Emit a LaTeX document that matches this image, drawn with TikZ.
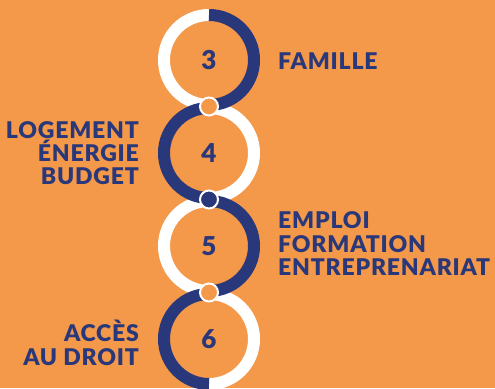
\documentclass[tikz,border=0pt]{standalone}
\usepackage{fontspec}
\setmainfont{Lato}[LetterSpace=3.5, BoldFont={Lato Black}]
\definecolor{bg}{RGB}{244,152,74}
\definecolor{navy}{RGB}{41,56,122}
\tikzset{
  ringpart/.style={line width=12pt},
  joint/.style={circle, draw=white, line width=2pt, minimum size=18pt, inner sep=0pt},
  num/.style={text=navy, font=\fontsize{26}{26}\selectfont\bfseries},
  lbl/.style={text=navy, font=\fontsize{23}{23}\selectfont\bfseries, inner sep=0pt},
}
\begin{document}
\begin{tikzpicture}[x=1pt,y=1pt]
\fill[bg] (0,0) rectangle (495,388);
\useasboundingbox (0,0) rectangle (495,388);
\def\rr{45}
\coordinate (c3) at (209,328);
\coordinate (c4) at (209,235);
\coordinate (c5) at (209,142);
\coordinate (c6) at (209,49);
% white strand
\draw[ringpart, white] ([shift={(90:\rr)}]c3) arc[start angle=90, end angle=270, radius=\rr];
\draw[ringpart, white] ([shift={(90:\rr)}]c4) arc[start angle=90, end angle=-90, radius=\rr];
\draw[ringpart, white] ([shift={(90:\rr)}]c5) arc[start angle=90, end angle=270, radius=\rr];
\draw[ringpart, white] ([shift={(90:\rr)}]c6) arc[start angle=90, end angle=-90, radius=\rr];
% blue strand
\draw[ringpart, navy] ([shift={(90:\rr)}]c3) arc[start angle=90, end angle=-90, radius=\rr];
\draw[ringpart, navy] ([shift={(90:\rr)}]c4) arc[start angle=90, end angle=270, radius=\rr];
\draw[ringpart, navy] ([shift={(90:\rr)}]c5) arc[start angle=90, end angle=-90, radius=\rr];
\draw[ringpart, navy] ([shift={(90:\rr)}]c6) arc[start angle=90, end angle=270, radius=\rr];
% joints
\node[joint, fill=bg] (j1) at (209,281.5) {};
\node[joint, fill=navy] (j2) at (209,188.5) {};
\node[joint, fill=bg] (j3) at (209,95.5) {};
% numbers
\node[num] (n3) at (c3) {3};
\node[num] (n4) at (c4) {4};
\node[num] (n5) at (c5) {5};
\node[num] (n6) at (c6) {6};
% labels
\node[lbl, anchor=base west] (famille) at (278,318.7) {FAMILLE};
\node[lbl, anchor=base east] (logement) at (139,249.7) {LOGEMENT};
\node[lbl, anchor=base east] (energie) at (139,226.4) {ÉNERGIE};
\node[lbl, anchor=base east] (budget) at (139,203.1) {BUDGET};
\node[lbl, anchor=base west] (emploi) at (278,159) {EMPLOI};
\node[lbl, anchor=base west] (formation) at (278,135.6) {FORMATION};
\node[lbl, anchor=base west] (entre) at (278,112.3) {ENTREPRENARIAT};
\node[lbl, anchor=base east] (acces) at (139,46.3) {ACCÈS};
\node[lbl, anchor=base east] (droit) at (139,23) {AU DROIT};
\end{tikzpicture}
\end{document}
